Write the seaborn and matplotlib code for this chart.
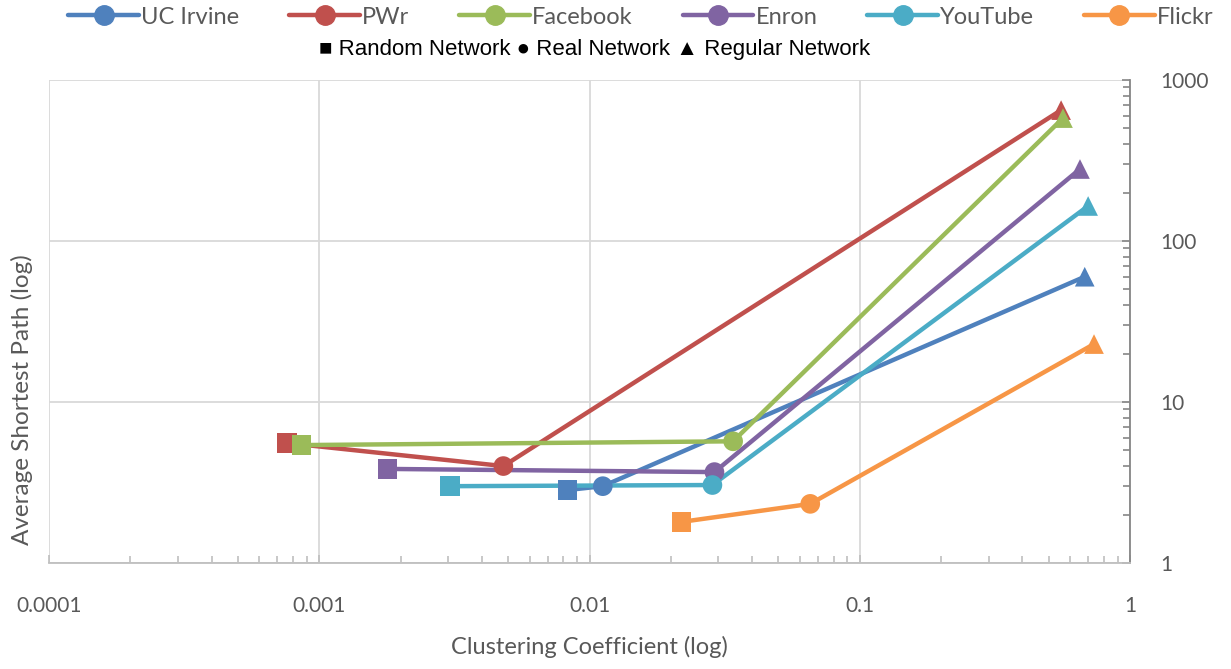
import numpy as np
import pandas as pd
import matplotlib
matplotlib.use("Agg")
import matplotlib.pyplot as plt
from matplotlib.lines import Line2D
from matplotlib.ticker import LogLocator, FixedLocator, FixedFormatter, NullFormatter
import seaborn as sns

# Clustering coefficient / average shortest path for each network:
# order of points = random network, real network, regular network
networks = ["UC Irvine", "PWr", "Facebook", "Enron", "YouTube", "Flickr"]
net_types = ["Random Network", "Real Network", "Regular Network"]

uc_irvine_cc = [0.0083, 0.0112, 0.68]
uc_irvine_asp = [2.84, 3.0, 60]
pwr_cc = [0.00076, 0.0048, 0.556]
pwr_asp = [5.56, 4.0, 650]
facebook_cc = [0.00086, 0.034, 0.565]
facebook_asp = [5.4, 5.7, 580]
enron_cc = [0.00179, 0.029, 0.653]
enron_asp = [3.84, 3.67, 280]
youtube_cc = [0.00304, 0.0285, 0.70]
youtube_asp = [3.0, 3.05, 165]
flickr_cc = [0.0219, 0.0656, 0.736]
flickr_asp = [1.8, 2.33, 22.9]

colors = ["#4F81BD", "#C0504D", "#9BBB59", "#8064A2", "#4BACC6", "#F79646"]

x_ticks = [0.0001, 0.001, 0.01, 0.1, 1]
x_tick_labels = ["0.0001", "0.001", "0.01", "0.1", "1"]
y_ticks = [1, 10, 100, 1000]
y_tick_labels = ["1", "10", "100", "1000"]

cc_series = [uc_irvine_cc, pwr_cc, facebook_cc, enron_cc, youtube_cc, flickr_cc]
asp_series = [uc_irvine_asp, pwr_asp, facebook_asp, enron_asp, youtube_asp, flickr_asp]

rows = []
for name, cc, asp in zip(networks, cc_series, asp_series):
    for t, c, a in zip(net_types, cc, asp):
        rows.append({"network": name, "type": t, "cc": c, "asp": a})
df = pd.DataFrame(rows)

sns.set_theme(style="white")
plt.rcParams["font.family"] = ["Lato", "DejaVu Sans"]

text_gray = "#595959"
fig = plt.figure(figsize=(12.31, 6.69), dpi=100)
ax = fig.add_axes([49 / 1231, 1 - 563 / 669, (1130 - 49) / 1231, (563 - 80) / 669])

palette = dict(zip(networks, colors))
sns.lineplot(data=df, x="cc", y="asp", hue="network", palette=palette,
             sort=False, estimator=None, lw=3.2, legend=False, ax=ax, zorder=3)
sns.scatterplot(data=df, x="cc", y="asp", hue="network", palette=palette,
                style="type", markers={"Random Network": "s", "Real Network": "o",
                                       "Regular Network": "^"},
                s=200, linewidth=0, legend=False, ax=ax, zorder=4)

ax.set_xscale("log")
ax.set_yscale("log")
ax.set_xlim(0.0001, 1)
ax.set_ylim(1, 1000)

ax.grid(True, which="major", color="#D9D9D9", lw=1.3)
ax.set_axisbelow(True)

for side in ["top", "left"]:
    ax.spines[side].set_visible(False)
ax.spines["bottom"].set_color("#BFBFBF")
ax.spines["bottom"].set_linewidth(1.3)
ax.spines["right"].set_color("#868686")
ax.spines["right"].set_linewidth(1.3)

ax.yaxis.tick_right()
ax.xaxis.set_major_locator(FixedLocator(x_ticks))
ax.xaxis.set_major_formatter(FixedFormatter(x_tick_labels))
ax.xaxis.set_minor_locator(LogLocator(base=10, subs=np.arange(2, 10)))
ax.xaxis.set_minor_formatter(NullFormatter())
ax.yaxis.set_major_locator(FixedLocator(y_ticks))
ax.yaxis.set_major_formatter(FixedFormatter(y_tick_labels))
ax.yaxis.set_minor_locator(LogLocator(base=10, subs=np.arange(2, 10)))
ax.yaxis.set_minor_formatter(NullFormatter())

ax.tick_params(axis="x", which="major", direction="in", length=6, width=1.2,
               color="#BFBFBF", labelsize=15, labelcolor=text_gray, pad=24,
               bottom=True)
ax.tick_params(axis="x", which="minor", direction="in", length=5, width=1.2,
               color="#BFBFBF", bottom=True)
ax.tick_params(axis="y", which="major", direction="in", length=6, width=1.2,
               color="#868686", labelsize=15, labelcolor=text_gray, pad=22,
               right=True, left=False)
ax.tick_params(axis="y", which="minor", direction="in", length=5, width=1.2,
               color="#868686", right=True, left=False)

ax.set_xlabel("Clustering Coefficient (log)", fontsize=17, color=text_gray, labelpad=14)
ax.set_ylabel("")
fig.text(22 / 1231, 1 - 400 / 669, "Average Shortest Path (log)", rotation=90,
         fontsize=17.5, color=text_gray, ha="center", va="center")

# Series legend
handles = [Line2D([0], [0], color=c, lw=3.2, marker="o", markersize=14)
           for c in colors]
fig.legend(handles, networks, loc="center", bbox_to_anchor=(641 / 1231, 1 - 17 / 669),
           ncol=6, frameon=False, fontsize=17, handlelength=3.0,
           columnspacing=2.1, handletextpad=0.1, labelcolor=text_gray,
           borderaxespad=0)

# Marker key
fig.text(595 / 1231, 1 - 50 / 669,
         "\u25A0 Random Network \u25CF Real Network \u25B2 Regular Network",
         family=["Liberation Sans", "DejaVu Sans"], fontsize=16, color="black",
         ha="center", va="center")

fig.savefig("out.png", dpi=100)
